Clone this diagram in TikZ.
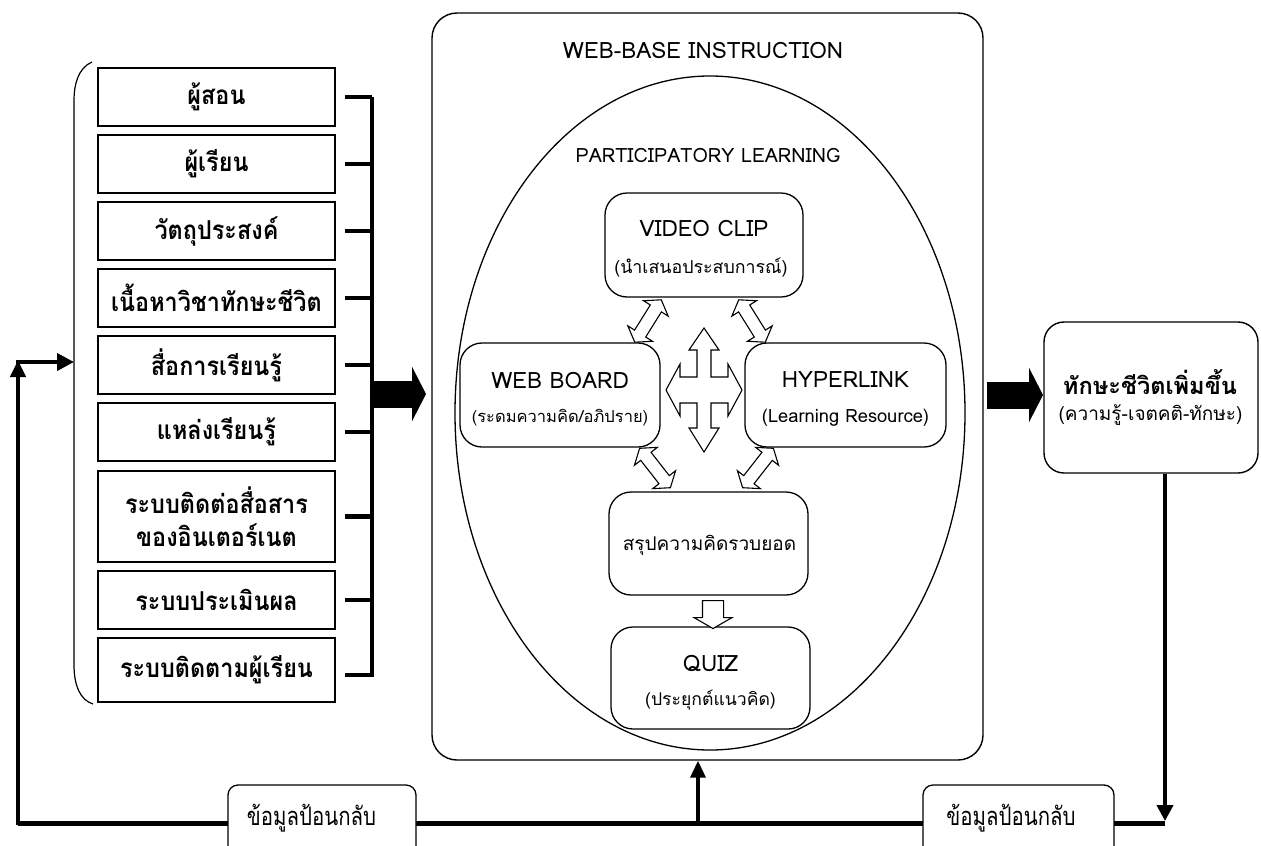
\documentclass[tikz,border=0pt]{standalone}
\usepackage{fontspec}
\setmainfont[Script=Thai]{Loma}
\newfontfamily\fbfont[Script=Thai,FakeStretch=0.8]{Loma}
\newfontfamily\lbfont[Script=Thai,FakeStretch=0.9]{Loma}
\usetikzlibrary{shapes.arrows,shapes.geometric,arrows.meta}
\begin{document}
\begin{tikzpicture}[x=1pt,y=-1pt,
  lbox/.style={draw,line width=1.8pt,minimum width=237pt,inner sep=0pt,align=center,font=\lbfont\bfseries\fontsize{26}{33}\selectfont},
  rbox/.style={draw,line width=1.3pt,rounded corners=22pt,inner sep=0pt,fill=white},
  ttl/.style={inner sep=0pt,font=\fontsize{22.5}{26}\selectfont},
  sub/.style={inner sep=0pt,font=\fontsize{#1}{20}\selectfont},
  sub/.default=16.5,
  bus/.style={line width=4.5pt},
  fbline/.style={line width=5pt},
  bigarrow/.style={line width=27pt,-{Triangle[length=14pt,width=54pt]}},
  dbl/.style={double arrow,draw,line width=1.1pt,fill=white,minimum height=50pt,inner xsep=0pt,inner ysep=6pt,double arrow head extend=8pt,double arrow tip angle=110,rotate=#1},
  fbbox/.style={draw,line width=1.3pt,rounded corners=10pt,fill=white,minimum width=188pt,minimum height=76pt,inner sep=0pt},
  fbtext/.style={inner sep=0pt,font=\fbfont\fontsize{25.5}{30}\selectfont}
]
\useasboundingbox (0,0) rectangle (1261,846);
\clip (0,0) rectangle (1261,846);

% left column
\node[lbox,minimum height=58pt] (b1) at (216.5,97) {ผู้สอน};
\node[lbox,minimum height=58pt] (b2) at (216.5,164) {ผู้เรียน};
\node[lbox,minimum height=58pt] (b3) at (216.5,231) {วัตถุประสงค์};
\node[lbox,minimum height=58pt] (b4) at (216.5,298) {เนื้อหาวิชาทักษะชีวิต};
\node[lbox,minimum height=58pt] (b5) at (216.5,365) {สื่อการเรียนรู้};
\node[lbox,minimum height=58pt] (b6) at (216.5,432) {แหล่งเรียนรู้};
\node[lbox,minimum height=91pt] (b7) at (216.5,516.5) {ระบบติดต่อสื่อสาร\\ของอินเตอร์เนต};
\node[lbox,minimum height=58pt] (b8) at (216.5,600) {ระบบประเมินผล};
\node[lbox,minimum height=64pt] (b9) at (216.5,670) {ระบบติดตามผู้เรียน};

% bracket
\coordinate (brk) at (74,362);
\draw[line width=1.2pt] (92,62) .. controls (78,68) and (74,85) .. (74,100) -- (74,665) .. controls (74,685) and (80,700) .. (93,704);

% bus
\coordinate (busT) at (372,97);
\coordinate (busB) at (372,677);
\draw[bus] (busT) -- (busB);
\foreach \b in {b1,b2,b3,b4,b5,b6,b7,b8}{
  \draw[bus] ([xshift=9pt]\b.east) -- (\b.east -| busT);
}
\draw[bus] ([xshift=9pt,yshift=-5pt]b9.east) -- ([yshift=-5pt]b9.east -| busT);

% main box
\node[draw,line width=1.4pt,rounded corners=25pt,minimum width=551pt,minimum height=747pt,inner sep=0pt] (web) at (707.5,386.5) {};
\node[inner sep=0pt,font=\fontsize{22.5}{26}\selectfont] (webt) at (703,50) {WEB-BASE INSTRUCTION};
\node[draw,line width=1.3pt,ellipse,minimum width=510pt,minimum height=674pt,inner sep=0pt] (pl) at (710,413) {};
\node[inner sep=0pt,font=\fontsize{19.7}{22}\selectfont] (plt) at (708,155) {PARTICIPATORY LEARNING};

\coordinate (a1) at (370,394);
\coordinate (a2) at (426,394);
\draw[bigarrow] (a1) -- (a2);

% inner boxes
\node[rbox,minimum width=198pt,minimum height=104pt] (vc) at (704,245) {};
\node[ttl] (vct) at ([yshift=17pt]vc.center) {VIDEO CLIP};
\node[sub=17.8] (vcs) at ([xshift=-3pt,yshift=-23pt]vc.center) {(นำเสนอประสบการณ์)};

\node[rbox,minimum width=200pt,minimum height=104pt] (wb) at (560,395) {};
\node[ttl] (wbt) at ([yshift=15pt]wb.center) {WEB BOARD};
\node[sub=16.5] (wbs) at ([yshift=-23pt]wb.center) {(ระดมความคิด/อภิปราย)};

\node[rbox,minimum width=201pt,minimum height=104pt] (hl) at (845.5,395) {};
\node[ttl] (hlt) at ([yshift=15pt]hl.center) {HYPERLINK};
\node[sub=18.3] (hls) at ([yshift=-23pt]hl.center) {(Learning Resource)};

\node[rbox,minimum width=199pt,minimum height=103pt] (sm) at (708.5,543.5) {};
\node[inner sep=0pt,font=\fontsize{19}{22}\selectfont] (smt) at (709.5,545) {สรุปความคิดรวบยอด};

\node[rbox,minimum width=199pt,minimum height=102pt] (qz) at (710.5,678) {};
\node[ttl] (qzt) at ([yshift=15pt]qz.center) {QUIZ};
\node[sub=17.6] (qzs) at ([yshift=-22pt]qz.center) {(ประยุกต์แนวคิด)};

% hollow arrows
\node[dbl=58] (d1) at (648,321) {};
\node[dbl=-58] (d2) at (752,321) {};
\node[dbl=-52] (d3) at (655,468) {};
\node[dbl=52] (d4) at (758,468) {};
\draw[line width=1.1pt,fill=white] (704,328) -- (719,350) -- (711,350) -- (711,377) -- (728,377) -- (728,364) -- (742,390) -- (728,416) -- (728,403) -- (711,403) -- (711,428) -- (719,428) -- (704,452) -- (689,428) -- (697,428) -- (697,403) -- (680,403) -- (680,416) -- (666,390) -- (680,364) -- (680,377) -- (697,377) -- (697,350) -- (689,350) -- cycle;
\node[single arrow,draw,line width=1.1pt,fill=white,rotate=-90,minimum height=28pt,inner xsep=0pt,inner ysep=10pt,single arrow head extend=8.5pt,single arrow tip angle=120] (dn) at (713,611.5) {};

% outcome box
\node[draw,line width=1.4pt,rounded corners=20pt,minimum width=214pt,minimum height=151pt,inner sep=0pt] (out) at (1151,397.5) {};
\node[inner sep=0pt,font=\bfseries\fontsize{23.6}{28}\selectfont] (outt) at (1150,382) {ทักษะชีวิตเพิ่มขึ้น};
\node[inner sep=0pt,font=\fontsize{19}{22}\selectfont] (outs) at (1150.5,415) {(ความรู้-เจตคติ-ทักษะ)};
\coordinate (a3) at (987,395);
\coordinate (a4) at (1043,395);
\draw[bigarrow] (a3) -- (a4);

% feedback loop
\coordinate (cL) at (18,823);
\coordinate (cR) at (1165,823);
\coordinate (cM) at (698,823);
\draw[fbline] (cL) -- (cR);
\draw[line width=4pt,-{Triangle[length=16pt,width=16pt]}] (out.south -| cR) -- ([yshift=2pt]cR);
\draw[line width=4pt,-{Triangle[length=17pt,width=15pt]}] ([yshift=-2pt]cL) -- (18,360);
\draw[line width=4pt,-{Triangle[length=17pt,width=17pt]}] (16,362) -- (brk);
\draw[line width=3.5pt,-{Triangle[length=17pt,width=15pt]}] (cM) -- (cM |- web.south);
\node[fbbox] (fb1) at (322,823) {};
\node[fbtext] (fb1t) at (311.5,818) {ข้อมูลป้อนกลับ};
\node[fbbox,minimum width=191pt] (fb2) at (1018.5,823) {};
\node[fbtext] (fb2t) at (1011,818) {ข้อมูลป้อนกลับ};
\end{tikzpicture}
\end{document}
